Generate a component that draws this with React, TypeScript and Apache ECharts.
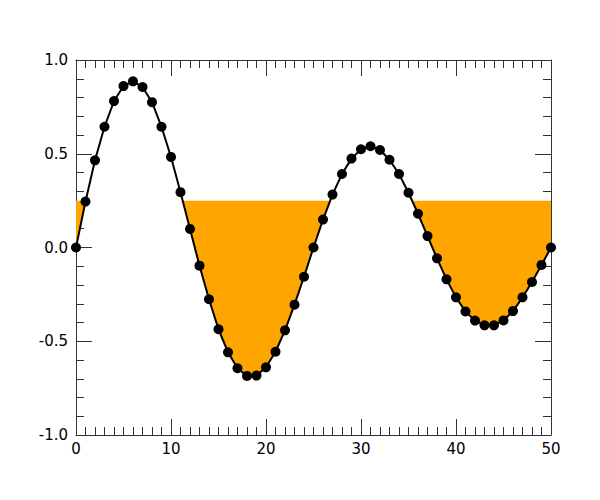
import React, { useEffect, useRef } from "react";
import * as echarts from "echarts";

const xValues: number[] = Array.from({ length: 51 }, (_, i) => i);
const yValues: number[] = [
  0, 0.245, 0.465, 0.644, 0.781, 0.861, 0.886, 0.856, 0.775, 0.644,
  0.483, 0.295, 0.099, -0.097, -0.276, -0.436, -0.559, -0.644, -0.685, -0.683,
  -0.639, -0.556, -0.442, -0.305, -0.156, 0.0, 0.149, 0.282, 0.392, 0.474,
  0.524, 0.54, 0.52, 0.468, 0.392, 0.292, 0.18, 0.061, -0.058, -0.17,
  -0.266, -0.341, -0.39, -0.415, -0.415, -0.389, -0.339, -0.266, -0.184, -0.093,
  0.0,
];
const threshold = 0.25;
const xTicks = [0, 10, 20, 30, 40, 50];
const yTicks = [-1.0, -0.5, 0.0, 0.5, 1.0];

// clipped curve (values below threshold) in data space, with exact crossings
function clippedOutline(): number[][] {
  const out: number[][] = [[xValues[0], threshold]];
  for (let i = 0; i < xValues.length; i++) {
    const x = xValues[i];
    const y = yValues[i];
    if (i > 0) {
      const px = xValues[i - 1];
      const py = yValues[i - 1];
      if ((py - threshold) * (y - threshold) < 0) {
        const t = (threshold - py) / (y - py);
        out.push([px + t * (x - px), threshold]);
      }
    }
    out.push([x, Math.min(y, threshold)]);
  }
  out.push([xValues[xValues.length - 1], threshold]);
  return out;
}

export default function App() {
  const ref = useRef<HTMLDivElement>(null);
  useEffect(() => {
    if (!ref.current) return;
    const chart = echarts.init(ref.current, null, { renderer: "svg" });
    const pts = xValues.map((x, i) => [x, yValues[i]]);
    const outline = clippedOutline();
    const axisColor = "#333";
    const axisLine = { show: true, onZero: false, lineStyle: { color: axisColor, width: 1 } };
    const label = { color: "#000", fontSize: 15, fontFamily: "DejaVu Sans" };
    const xCommon = {
      type: "value" as const,
      min: xTicks[0],
      max: xTicks[xTicks.length - 1],
      interval: 10,
      axisLine,
      axisTick: { show: true, inside: true, length: 16, lineStyle: { color: axisColor } },
      minorTick: { show: true, splitNumber: 10, length: 8, lineStyle: { color: axisColor } },
      splitLine: { show: false },
    };
    const yCommon = {
      type: "value" as const,
      min: yTicks[0],
      max: yTicks[yTicks.length - 1],
      interval: 0.5,
      axisLine,
      axisTick: { show: true, inside: true, length: 16, lineStyle: { color: axisColor } },
      minorTick: { show: true, splitNumber: 5, length: 8, lineStyle: { color: axisColor } },
      splitLine: { show: false },
    };
    chart.setOption({
      animation: false,
      backgroundColor: "#fff",
      grid: { left: 76, right: 49, top: 60, bottom: 65, containLabel: false },
      xAxis: [
        { ...xCommon, position: "bottom", axisLabel: { ...label, margin: 6 } },
        { ...xCommon, position: "top", axisLabel: { show: false } },
      ],
      yAxis: [
        {
          ...yCommon,
          position: "left",
          axisLabel: { ...label, margin: 8, formatter: (v: number) => v.toFixed(1) },
        },
        { ...yCommon, position: "right", axisLabel: { show: false } },
      ],
      series: [
        {
          type: "custom",
          data: [[0, 0]],
          silent: true,
          z: 1,
          renderItem: (_params: any, api: any) => ({
            type: "polygon",
            shape: { points: outline.map((p) => api.coord(p)) },
            style: { fill: "#FFA500", stroke: "none" },
          }),
        },
        {
          type: "line",
          data: pts,
          symbol: "circle",
          symbolSize: 10,
          itemStyle: { color: "#000" },
          lineStyle: { color: "#000", width: 2 },
          z: 3,
        },
      ],
    });
    return () => chart.dispose();
  }, []);
  return (
    <div
      ref={ref}
      style={{ position: "fixed", left: 0, top: 0, width: 600, height: 500 }}
    />
  );
}
